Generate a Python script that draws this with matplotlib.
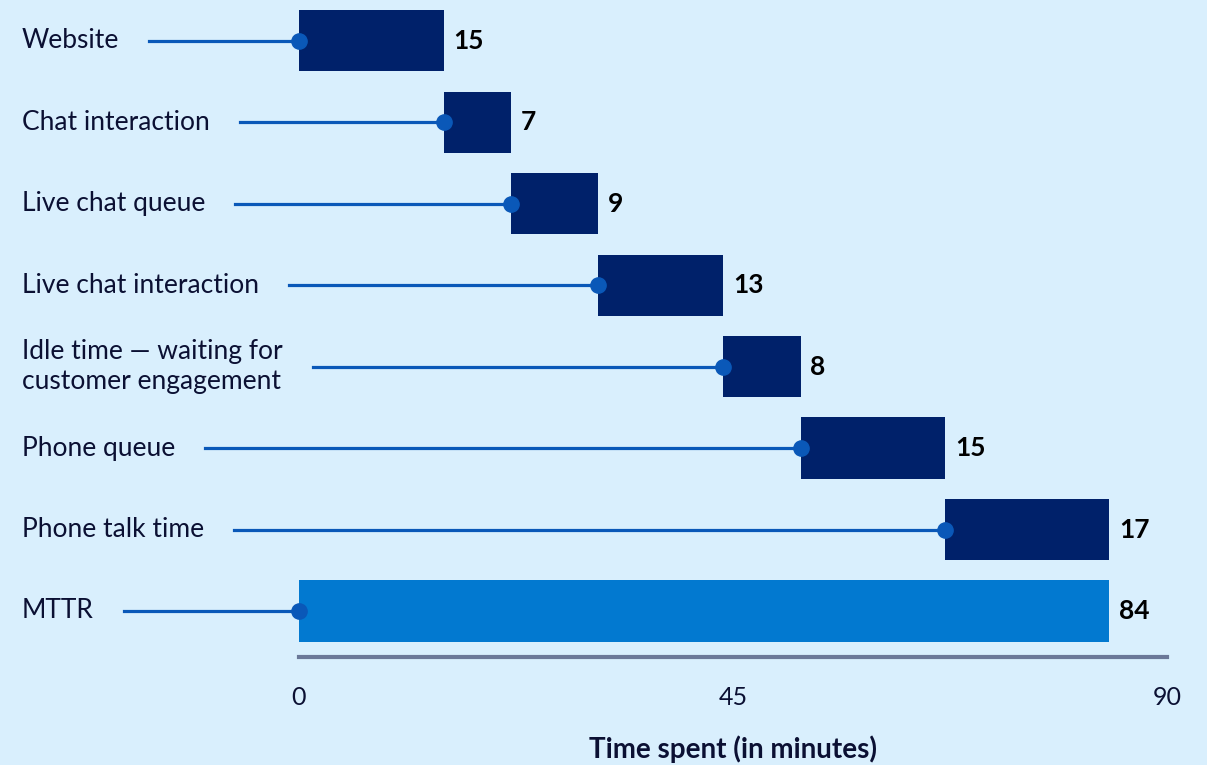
import numpy as np
import matplotlib
matplotlib.use('Agg')
from matplotlib import pyplot as plt

plt.rcParams['font.family'] = ['Lato', 'DejaVu Sans']

# 数据
steps = ['Website', 'Chat interaction', 'Live chat queue', 'Live chat interaction',
         'Idle time — waiting for\ncustomer engagement', 'Phone queue', 'Phone talk time']
minutes = [15, 7, 9, 13, 8, 15, 17]
total_label = 'MTTR'
x_ticks = [0, 45, 90]

bg = '#d9effd'
navy = '#00216a'
mttr_blue = '#0279d0'
line_blue = '#0a58b8'
text_col = '#0b1033'

labels = steps + [total_label]
starts = list(np.cumsum([0] + minutes[:-1])) + [0]
widths = minutes + [sum(minutes)]
colors = [navy] * len(steps) + [mttr_blue]
ypos = np.arange(len(labels))

W, H = 1207, 765
fig = plt.figure(figsize=(W / 100, H / 100), dpi=100, facecolor=bg)
ax = fig.add_axes([299 / W, (H - 657) / H, 868 / W, 657 / H])
ax.set_facecolor(bg)

ax.barh(ypos, widths, left=starts, height=0.75, color=colors, zorder=2)
ax.set_xlim(0, 90)
ax.set_ylim(7.565, -0.5)

for s in ['top', 'right', 'left']:
    ax.spines[s].set_visible(False)
ax.spines['bottom'].set_color('#6b7898')
ax.spines['bottom'].set_linewidth(3)
ax.set_yticks([])
ax.set_xticks(x_ticks)
ax.tick_params(axis='x', length=0, pad=21, labelsize=18, labelcolor=text_col)

# 横轴标题
fig.text(733 / W, 1 - 749 / H, 'Time spent (in minutes)', ha='center', va='center',
         fontsize=20, fontweight='bold', color=text_col)

# 数值标签
for y, s, w in zip(ypos, starts, widths):
    ax.annotate(str(w), (s + w, y), xytext=(7, 0), textcoords='offset points',
                va='center', ha='left', fontsize=19, fontweight='bold', color='black')

# 左侧类别文字
texts = []
for y, lab in zip(ypos, labels):
    yf = fig.transFigure.inverted().transform(ax.transData.transform((0, y)))[1]
    t = fig.text(22 / W, yf, lab, ha='left', va='center', fontsize=19,
                 color=text_col, linespacing=1.25)
    texts.append(t)

fig.canvas.draw()
renderer = fig.canvas.get_renderer()
inv = ax.transData.inverted()
for t, y, s in zip(texts, ypos, starts):
    bb = t.get_window_extent(renderer)
    x0 = inv.transform((bb.x1 + 30, 0))[0]
    ax.plot([x0, s], [y, y], color=line_blue, lw=2.3, clip_on=False, zorder=3)
    ax.plot([s], [y], 'o', color=line_blue, markersize=11, clip_on=False, zorder=4)

plt.savefig('out.png', dpi=100, facecolor=bg)
